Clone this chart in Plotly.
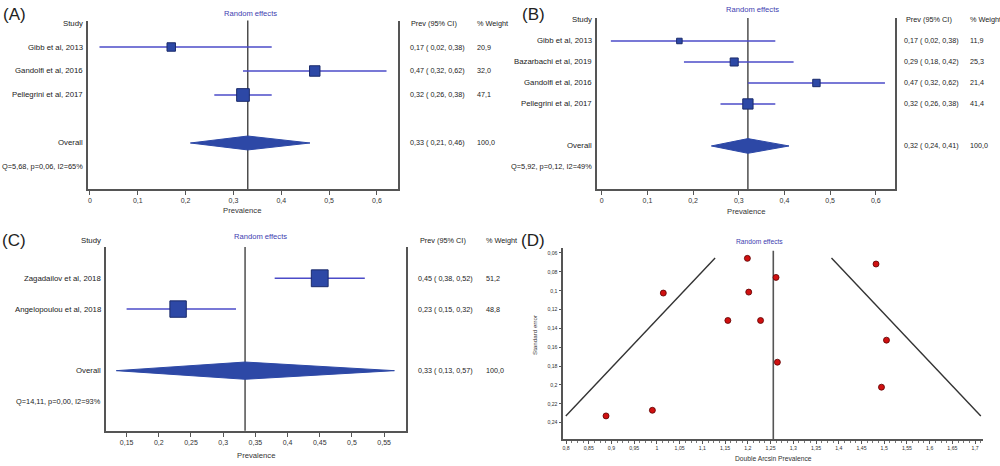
import plotly.graph_objects as go

# ---------------- data ----------------
A_studies = ["Gibb et al, 2013", "Gandolfi et al, 2016", "Pellegrini et al, 2017"]
A_prev = [0.17, 0.47, 0.32]
A_lo = [0.02, 0.32, 0.26]
A_hi = [0.38, 0.62, 0.38]
A_weight = [20.9, 32.0, 47.1]
A_overall = [0.33, 0.21, 0.46]
A_het = [5.68, 0.06, 65]

B_studies = ["Gibb et al, 2013", "Bazarbachi et al, 2019", "Gandolfi et al, 2016", "Pellegrini et al, 2017"]
B_prev = [0.17, 0.29, 0.47, 0.32]
B_lo = [0.02, 0.18, 0.32, 0.26]
B_hi = [0.38, 0.42, 0.62, 0.38]
B_weight = [11.9, 25.3, 21.4, 41.4]
B_overall = [0.32, 0.24, 0.41]
B_het = [5.92, 0.12, 49]

C_studies = ["Zagadailov et al, 2018", "Angelopoulou et al, 2018"]
C_prev = [0.45, 0.23]
C_lo = [0.38, 0.15]
C_hi = [0.52, 0.32]
C_weight = [51.2, 48.8]
C_overall = [0.334, 0.134, 0.566]
C_het = [14.11, 0.00, 93]

D_x = [1.199, 1.262, 1.482, 1.014, 1.202, 1.156, 1.228, 1.505, 1.265, 1.494, 0.990, 0.888]
D_se = [0.0657, 0.0859, 0.0717, 0.1025, 0.1015, 0.1316, 0.1316, 0.1525, 0.1759, 0.2024, 0.2269, 0.2329]
D_center = 1.256
D_funnel_se = [0.0653, 0.2329]

# ---------------- styling ----------------
FONT = "Liberation Sans, Arial, sans-serif"
SQ_FILL = "#2d48a6"
SQ_LINE = "#1b2b6b"
CI_COL = "#4b4bc8"
AX_COL = "#555555"
TITLE_COL = "#4040b0"
W, H = 1000, 466


def px(v):
    return v / W


def py(v):
    return 1 - v / H


def fmt(v):
    return f"{v:.2f}".replace(".", ",")


fig = go.Figure()
annotations = []
shapes = []

panels = [
    dict(key="", studies=A_studies, prev=A_prev, lo=A_lo, hi=A_hi, w=A_weight, ov=A_overall, het=A_het,
         xd=(88, 398), yd=(20.5, 189), xr=[-0.004, 0.644], yr=[6.917, -0.104], dtick=0.1, tick0=0,
         k=1.85, dh=0.29, head_py=23.3, prev_x=407.5, prev_hx=409, w_x=475, title=(250, 13),
         xlab=(242, 211), lab="(A)", lab_xy=(14, 15)),
    dict(key="2", studies=B_studies, prev=B_prev, lo=B_lo, hi=B_hi, w=B_weight, ov=B_overall, het=B_het,
         xd=(596.7, 895), yd=(18, 189), xr=[-0.011, 0.642], yr=[8.05, -0.095], dtick=0.1, tick0=0,
         k=1.6, dh=0.35, head_py=20, prev_x=901.5, prev_hx=904, w_x=968, title=(752, 10),
         xlab=(746, 211.5), lab="(B)", lab_xy=(533, 15)),
    dict(key="3", studies=C_studies, prev=C_prev, lo=C_lo, hi=C_hi, w=C_weight, ov=C_overall, het=C_het,
         xd=(106, 406), yd=(247, 430.7), xr=[0.118, 0.584], yr=[5.95, -0.016], dtick=0.05, tick0=0,
         k=2.35, dh=0.28, head_py=240.7, prev_x=416, prev_hx=417.5, w_x=483.5, title=(260, 236),
         xlab=(256, 455.5), lab="(C)", lab_xy=(14, 240)),
]

for p in panels:
    k = p["key"]
    xa = "x" + k
    ya = "y" + k
    n = len(p["studies"])
    rows = list(range(1, n + 1))
    ov_row = n + 2
    q_row = n + 3

    # CI lines
    lx, ly = [], []
    for r, a, b in zip(rows, p["lo"], p["hi"]):
        lx += [a, b, None]
        ly += [r, r, None]
    fig.add_trace(go.Scatter(x=lx, y=ly, mode="lines", line=dict(color=CI_COL, width=1.6),
                             xaxis=xa, yaxis=ya, hoverinfo="skip"))
    # squares
    fig.add_trace(go.Scatter(x=p["prev"], y=rows, mode="markers",
                             marker=dict(symbol="square", size=[p["k"] * (w ** 0.5) for w in p["w"]],
                                         color=SQ_FILL, opacity=1, line=dict(color=SQ_LINE, width=1)),
                             xaxis=xa, yaxis=ya))
    # diamond
    est, lo, hi = p["ov"]
    dh = p["dh"]
    fig.add_trace(go.Scatter(x=[lo, est, hi, est, lo], y=[ov_row, ov_row - dh, ov_row, ov_row + dh, ov_row],
                             mode="lines", fill="toself", fillcolor=SQ_FILL, line=dict(color=SQ_FILL, width=1),
                             xaxis=xa, yaxis=ya))
    # vertical line at overall
    shapes.append(dict(type="line", xref=xa, yref=ya + " domain", x0=est, x1=est, y0=0, y1=1,
                       line=dict(color="#333333", width=1.3), layer="below"))

    xd, yd = p["xd"], p["yd"]
    fig.update_layout(**{
        ("xaxis" + k): dict(domain=[px(xd[0]), px(xd[1])], range=p["xr"], anchor=ya,
                            showline=True, linecolor=AX_COL, linewidth=2, mirror=False,
                            ticks="outside", ticklen=4, tickcolor=AX_COL, tickwidth=1,
                            dtick=p["dtick"], tick0=p["tick0"], showgrid=False, zeroline=False,
                            tickfont=dict(family=FONT, size=7, color="#333")),
        ("yaxis" + k): dict(domain=[py(yd[1]), py(yd[0])], range=p["yr"], anchor=xa,
                            showline=True, linecolor=AX_COL, linewidth=2, mirror=True,
                            showticklabels=False, ticks="", showgrid=False, zeroline=False),
    })

    left = px(xd[0] - 3)
    tf = dict(family=FONT, size=7.8, color="#222")
    qf = dict(family=FONT, size=7.4, color="#222")
    nf = dict(family=FONT, size=7.2, color="#222")
    hf = dict(family=FONT, size=7.3, color="#222")
    hy = py(p["head_py"])
    annotations.append(dict(text="Study", x=left, y=hy, xref="paper", yref="paper",
                            xanchor="right", yanchor="middle", showarrow=False, font=tf))
    for r, s in zip(rows, p["studies"]):
        annotations.append(dict(text=s, x=left, y=r, xref="paper", yref=ya, xanchor="right",
                                yanchor="middle", showarrow=False, font=tf))
    annotations.append(dict(text="Overall", x=left, y=ov_row, xref="paper", yref=ya, xanchor="right",
                            yanchor="middle", showarrow=False, font=tf))
    Q, pv, I2 = p["het"]
    qtxt = f"Q={fmt(Q)}, p={fmt(pv)}, I2={I2}%"
    annotations.append(dict(text=qtxt, x=left, y=q_row, xref="paper", yref=ya, xanchor="right",
                            yanchor="middle", showarrow=False, font=qf))
    # right columns
    annotations.append(dict(text="Prev (95% CI)", x=px(p["prev_hx"]), y=hy, xref="paper", yref="paper",
                            xanchor="left", yanchor="middle", showarrow=False, font=hf))
    annotations.append(dict(text="% Weight", x=px(p["w_x"]), y=hy, xref="paper", yref="paper",
                            xanchor="left", yanchor="middle", showarrow=False, font=hf))
    for r, e, a, b, w in zip(rows, p["prev"], p["lo"], p["hi"], p["w"]):
        annotations.append(dict(text=f"{fmt(e)} ( {fmt(a)}, {fmt(b)})", x=px(p["prev_x"]), y=r,
                                xref="paper", yref=ya, xanchor="left", yanchor="middle",
                                showarrow=False, font=nf))
        annotations.append(dict(text=f"{w:.1f}".replace(".", ","), x=px(p["w_x"]), y=r,
                                xref="paper", yref=ya, xanchor="left", yanchor="middle",
                                showarrow=False, font=nf))
    annotations.append(dict(text=f"{fmt(est)} ( {fmt(lo)}, {fmt(hi)})", x=px(p["prev_x"]), y=ov_row,
                            xref="paper", yref=ya, xanchor="left", yanchor="middle",
                            showarrow=False, font=nf))
    annotations.append(dict(text=f"{sum(p['w']):.1f}".replace(".", ","), x=px(p["w_x"]), y=ov_row,
                            xref="paper", yref=ya, xanchor="left", yanchor="middle",
                            showarrow=False, font=nf))
    # title, x label, panel label
    annotations.append(dict(text="Random effects", x=px(p["title"][0]), y=py(p["title"][1]), xref="paper",
                            yref="paper", xanchor="center", yanchor="middle", showarrow=False,
                            font=dict(family=FONT, size=7.6, color=TITLE_COL)))
    annotations.append(dict(text="Prevalence", x=px(p["xlab"][0]), y=py(p["xlab"][1]), xref="paper",
                            yref="paper", xanchor="center", yanchor="middle", showarrow=False,
                            font=dict(family=FONT, size=7.7, color="#333")))
    annotations.append(dict(text=p["lab"], x=px(p["lab_xy"][0]), y=py(p["lab_xy"][1]), xref="paper",
                            yref="paper", xanchor="center", yanchor="middle", showarrow=False,
                            font=dict(family=FONT, size=17, color="#222")))

# ---------------- panel D: funnel plot ----------------
se0, se1 = D_funnel_se
fig.add_trace(go.Scatter(x=[D_center - 1.96 * se1, D_center - 1.96 * se0, None,
                            D_center + 1.96 * se0, D_center + 1.96 * se1],
                         y=[se1, se0, None, se0, se1], mode="lines",
                         line=dict(color="#333333", width=1.4), xaxis="x4", yaxis="y4", hoverinfo="skip"))
shapes.append(dict(type="line", xref="x4", yref="y4 domain", x0=D_center, x1=D_center, y0=0, y1=0.985,
                   line=dict(color="#555555", width=1.6), layer="below"))
fig.add_trace(go.Scatter(x=D_x, y=D_se, mode="markers",
                         marker=dict(symbol="circle", size=6, color="#d01010", opacity=1,
                                     line=dict(color="#5a0000", width=0.8)),
                         xaxis="x4", yaxis="y4"))
fig.update_layout(
    xaxis4=dict(domain=[px(563.3), px(983.3)], range=[0.794, 1.718], anchor="y4",
                showline=True, linecolor=AX_COL, linewidth=1.5, ticks="outside", ticklen=3,
                tickcolor=AX_COL, dtick=0.05, tick0=0.8, showgrid=False, zeroline=False,
                minor=dict(ticks="outside", ticklen=2, dtick=0.0125, tickcolor="#777"),
                tickfont=dict(family=FONT, size=5.2, color="#333")),
    yaxis4=dict(domain=[py(439.3), py(248)], range=[0.2577, 0.0547], anchor="x4",
                showline=True, linecolor=AX_COL, linewidth=1.5, ticks="outside", ticklen=3,
                tickcolor=AX_COL, dtick=0.02, tick0=0.06, showgrid=False, zeroline=False,
                tickfont=dict(family=FONT, size=5.2, color="#333")),
)
annotations += [
    dict(text="Random effects", x=px(759), y=py(242), xref="paper", yref="paper", showarrow=False,
         xanchor="center", yanchor="middle", font=dict(family=FONT, size=6.7, color=TITLE_COL)),
    dict(text="Double Arcsin Prevalence", x=px(773), y=py(458.5), xref="paper", yref="paper",
         showarrow=False, xanchor="center", yanchor="middle", font=dict(family=FONT, size=6.7, color="#333")),
    dict(text="Standard error", x=px(534), y=py(335), xref="paper", yref="paper", showarrow=False,
         xanchor="center", yanchor="middle", textangle=-90, font=dict(family=FONT, size=6.2, color="#333")),
    dict(text="(D)", x=px(533), y=py(240), xref="paper", yref="paper", showarrow=False,
         xanchor="center", yanchor="middle", font=dict(family=FONT, size=17, color="#222")),
]

fig.update_layout(width=W, height=H, margin=dict(l=0, r=0, t=0, b=0), showlegend=False,
                  paper_bgcolor="white", plot_bgcolor="white", separators=", ",
                  annotations=annotations, shapes=shapes)

fig.write_html("out.html", config={"displayModeBar": False},
               post_script="document.body.style.margin='0';document.body.style.padding='0';")
